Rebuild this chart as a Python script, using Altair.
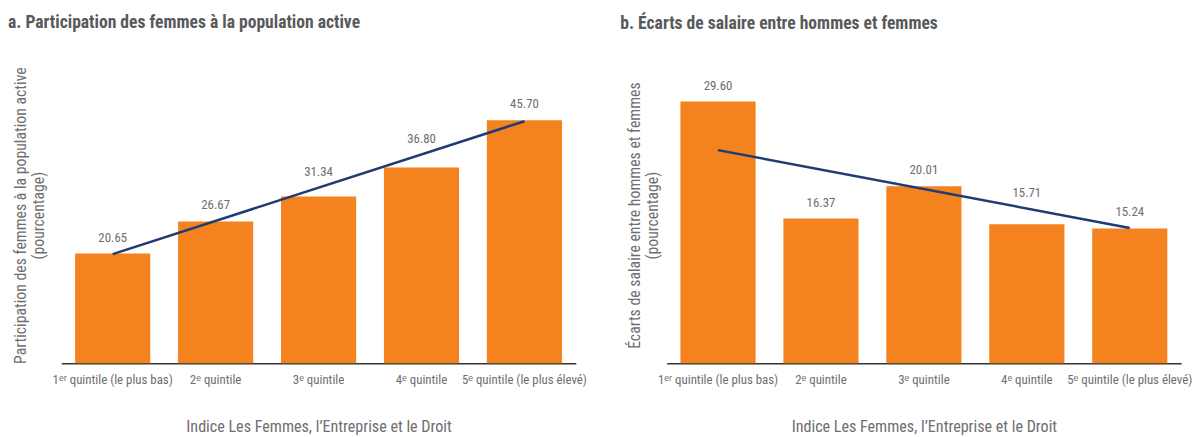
import altair as alt
import pandas as pd

quintiles = [
    "1ᵉʳ quintile (le plus bas)",
    "2ᵉ quintile",
    "3ᵉ quintile",
    "4ᵉ quintile",
    "5ᵉ quintile (le plus élevé)",
]
participation = [20.65, 26.67, 31.34, 36.80, 45.70]
wage_gap = [29.60, 16.37, 20.01, 15.71, 15.24]

trend_x = [quintiles[0], quintiles[4]]
trend_a = [20.5, 45.5]
trend_b = [24.1, 15.3]

title_a = "a. Participation des femmes à la population active"
title_b = "b. Écarts de salaire entre hommes et femmes"
ytitle_a = ["Participation des femmes à la population active", "(pourcentage)"]
ytitle_b = ["Écarts de salaire entre hommes et femmes", "(pourcentage)"]
xtitle = "Indice Les Femmes, l’Entreprise et le Droit"

FONT = "Noto Sans Condensed, Noto Sans ExtraCondensed, Roboto Condensed, Roboto, sans-serif"
ORANGE = "#F4821F"
NAVY = "#1F3B73"
GREY = "#6d6e71"
HEIGHT = 300


def panel(values, trend, title, ytitle, ymax, ypad, tdx):
    df = pd.DataFrame({"q": quintiles, "v": values, "i": list(range(len(quintiles)))})
    tdf = pd.DataFrame({"q": trend_x, "v": trend})
    n = len(quintiles) - 1
    label_room = ymax * 24 / HEIGHT  # space a label needs above its bar, in data units
    x = alt.X(
        "q:N",
        sort=quintiles,
        scale=alt.Scale(domain=quintiles, paddingInner=0.27, paddingOuter=0.134),
        axis=alt.Axis(
            title=xtitle,
            labelAngle=0,
            ticks=False,
            domainColor="#333333",
            domainWidth=1.5,
            labelColor=GREY,
            labelFont=FONT,
            labelFontSize=13,
            labelPadding=11,
            titleColor=GREY,
            titleFont=FONT,
            titleFontSize=16.3,
            titleFontWeight="normal",
            titlePadding=32,
        ),
    )
    y = alt.Y(
        "v:Q",
        scale=alt.Scale(domain=[0, ymax], nice=False, zero=True),
        axis=alt.Axis(
            title=ytitle,
            labels=False,
            ticks=False,
            domain=False,
            grid=False,
            titleColor=GREY,
            titleFont=FONT,
            titleFontSize=16,
            titleFontWeight="normal",
            titlePadding=ypad,
        ),
    )
    bars = alt.Chart(df).mark_bar(color=ORANGE).encode(x=x, y=y)
    # labels sit above the bar, lifted above the trend line when it would cross them
    labels = (
        alt.Chart(df)
        .transform_calculate(
            t=f"{trend[0]} + ({trend[1]} - {trend[0]}) * datum.i / {n}"
        )
        .transform_calculate(
            ly=f"(datum.t > datum.v && datum.t < datum.v + {label_room}) ? datum.t : datum.v"
        )
        .mark_text(dy=-9, baseline="bottom", color=GREY, font=FONT, fontSize=13)
        .encode(
            x=alt.X("q:N", sort=quintiles),
            y="ly:Q",
            text=alt.Text("v:Q", format=".2f"),
        )
    )
    line = alt.Chart(tdf).mark_line(color=NAVY, strokeWidth=2.5).encode(
        x=alt.X("q:N", sort=quintiles), y="v:Q"
    )
    return alt.layer(bars, line, labels).properties(
        width=521,
        height=HEIGHT,
        title=alt.TitleParams(
            title,
            anchor="start",
            frame="group",
            font=FONT,
            fontSize=17.8,
            fontWeight="bold",
            color="#58595b",
            offset=35,
            dx=tdx,
        ),
    )


pa = panel(participation, trend_a, title_a, ytitle_a, 55.7, 15, -54)
pb = panel(wage_gap, trend_b, title_b, ytitle_b, 33.5, 6, -47)

chart = (
    alt.hconcat(pa, pb, spacing=34)
    .properties(
        padding={"left": 0, "top": 3, "right": 0, "bottom": 0},
        background="white",
    )
    .configure_view(strokeWidth=0, stroke="transparent")
)

chart.save("out.html", embed_options={"renderer": "svg", "actions": False})
